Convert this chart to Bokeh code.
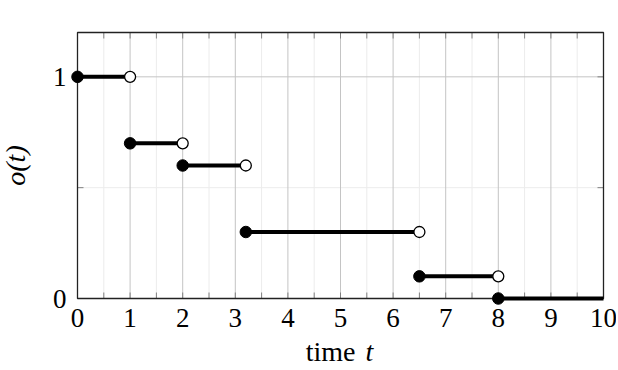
import math
from bokeh.plotting import figure
from bokeh.models import Range1d
from bokeh.core.properties import value
from bokeh.embed import file_html
from bokeh.resources import INLINE

# data
starts = [0, 1, 2, 3.2, 6.5, 8]
ends = [1, 2, 3.2, 6.5, 8, 10]
values = [1, 0.7, 0.6, 0.3, 0.1, 0]

x_major = [0, 1, 2, 3, 4, 5, 6, 7, 8, 9, 10]
x_labels = ["0", "1", "2", "3", "4", "5", "6", "7", "8", "9", "10"]
x_minor = [0.5, 1.5, 2.5, 3.5, 4.5, 5.5, 6.5, 7.5, 8.5, 9.5]
y_major = [0, 1]
y_labels = ["0", "1"]
y_minor = [0.5]
X0, X1 = 0, 10
Y0, Y1 = 0, 1.2

FONT = "Liberation Serif"

# layout (pixels): the canvas is the whole figure, the visible frame box sits inside it
W, H = 616, 368
FL, FT, FW, FH = 77, 32, 526, 266
ppx = FW / (X1 - X0)
ppy = FH / (Y1 - Y0)

p = figure(width=W, height=H, output_backend="svg", toolbar_location=None,
           x_range=Range1d(X0 - FL / ppx, X1 + (W - FL - FW) / ppx),
           y_range=Range1d(Y0 - (H - FT - FH) / ppy, Y1 + FT / ppy),
           min_border=0)
p.background_fill_color = "white"
p.border_fill_color = "white"
p.outline_line_color = None
p.grid.visible = False
p.axis.visible = False

GRID_MAJOR = "#c4c4c4"
GRID_MINOR = "#ececec"
TICK = "#808080"

# grid lines
p.segment(x0=x_minor, x1=x_minor, y0=[Y0] * len(x_minor), y1=[Y1] * len(x_minor),
          line_color=GRID_MINOR, line_width=1)
p.segment(x0=[X0] * len(y_minor), x1=[X1] * len(y_minor), y0=y_minor, y1=y_minor,
          line_color=GRID_MINOR, line_width=1)
p.segment(x0=x_major, x1=x_major, y0=[Y0] * len(x_major), y1=[Y1] * len(x_major),
          line_color=GRID_MAJOR, line_width=1)
p.segment(x0=[X0] * len(y_major), x1=[X1] * len(y_major), y0=y_major, y1=y_major,
          line_color=GRID_MAJOR, line_width=1)

# inward ticks on all four sides
tlx = 6 / ppx
tly = 6 / ppy
tx = x_major + x_minor
ty = y_major + y_minor
p.segment(x0=tx, x1=tx, y0=[Y0] * len(tx), y1=[Y0 + tly] * len(tx), line_color=TICK, line_width=1)
p.segment(x0=tx, x1=tx, y0=[Y1] * len(tx), y1=[Y1 - tly] * len(tx), line_color=TICK, line_width=1)
p.segment(x0=[X0] * len(ty), x1=[X0 + tlx] * len(ty), y0=ty, y1=ty, line_color=TICK, line_width=1)
p.segment(x0=[X1] * len(ty), x1=[X1 - tlx] * len(ty), y0=ty, y1=ty, line_color=TICK, line_width=1)

# frame
p.quad(left=[X0], right=[X1], bottom=[Y0], top=[Y1], fill_color=None,
       line_color="#222222", line_width=1.3)

# tick labels
p.text(x=x_major, y=[Y0] * len(x_major), text=x_labels, y_offset=19,
       text_align="center", text_baseline="alphabetic", text_font=value(FONT),
       text_font_size="27px", text_color="black")
p.text(x=[X0] * len(y_major), y=y_major, text=y_labels, x_offset=-11,
       text_align="right", text_baseline="middle", text_font=value(FONT),
       text_font_size="27px", text_color="black")

# axis titles
xm = (X0 + X1) / 2
ym = (Y0 + Y1) / 2
p.text(x=[xm], y=[Y0], text=["time"], x_offset=15, y_offset=53, text_align="right",
       text_baseline="alphabetic", text_font=value(FONT), text_font_size="28px",
       text_color="black")
p.text(x=[xm], y=[Y0], text=["t"], x_offset=25, y_offset=53, text_align="left",
       text_baseline="alphabetic", text_font=value(FONT), text_font_size="28px",
       text_font_style="italic", text_color="black")
p.text(x=[X0], y=[ym], text=["o(t)"], x_offset=-62, angle=math.pi / 2,
       text_align="center", text_baseline="middle", text_font=value(FONT),
       text_font_size="28px", text_font_style="italic", text_color="black")

# data
p.segment(x0=starts, x1=ends, y0=values, y1=values, line_color="black", line_width=4)
p.scatter(x=starts, y=values, size=11.5, marker="circle", fill_color="black", line_color="black")
p.scatter(x=ends[:-1], y=values[:-1], size=11, marker="circle", fill_color="white",
          line_color="black", line_width=1.3)

open("out.html", "w").write(file_html(p, INLINE))
